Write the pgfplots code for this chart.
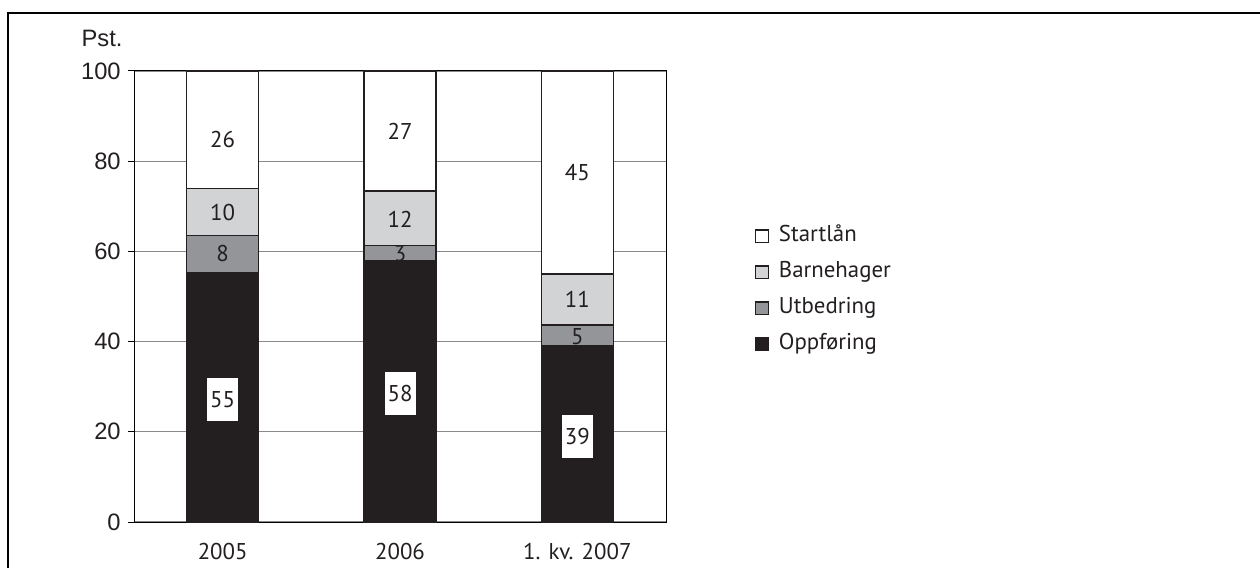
\documentclass[border=0pt]{standalone}
\usepackage{pgfplots}
\pgfplotsset{compat=1.18}
\usepackage{fontspec}
\setmainfont{PT Sans}
\newfontfamily\arialfont{Liberation Sans}
\definecolor{cblack}{HTML}{231F20}
\definecolor{cmid}{HTML}{939598}
\definecolor{clight}{HTML}{D1D3D4}
\definecolor{cgrid}{HTML}{8A8A8A}
\pgfplotsset{commonax/.style={
  at={(2.68cm,0.90cm)}, anchor=south west,
  scale only axis, width=10.64cm, height=9.02cm,
  xmin=-0.5, xmax=2.5, ymin=0, ymax=100}}
\begin{document}
\begin{tikzpicture}
\useasboundingbox (0,0) rectangle (25.2,11.34);
\draw[line width=0.05cm] (0.16,-0.1) -- (0.16,11.08) -- (25.4,11.08);
\node[font={\arialfont\fontsize{13.5pt}{15pt}\selectfont}, text=cblack, anchor=center] at (2.04,10.58) {Pst.};
\begin{axis}[
  commonax,
  ybar stacked, bar width=1.44cm,
  xtick={0,1,2}, xticklabels={2005,2006,1. kv. 2007},
  ytick={0,20,40,60,80,100}, yticklabels={0,20,40,60,80,100},
  axis line style={black, line width=0.02cm},
  ymajorgrids, major grid style={cgrid, line width=0.025cm},
  tick align=outside, ytick pos=left, xtick style={draw=none},
  ytick style={black, line width=0.02cm}, major tick length=0.12cm,
  yticklabel style={font={\arialfont\fontsize{13.5pt}{15pt}\selectfont}, text=cblack, anchor=east, inner sep=0pt, xshift=-0.14cm},
  xticklabel style={font={\fontsize{13pt}{15pt}\selectfont}, text=cblack, anchor=north, inner sep=0pt, yshift=-0.3cm},
  reverse legend,
  legend cell align=left,
  legend style={draw=none, fill=none, inner sep=0pt, font={\fontsize{13pt}{15pt}\selectfont}, text=cblack,
    at={(axis description cs:1.167,0.514)}, anchor=west,
    row sep=0.32cm, column sep=0.2cm,
    nodes={inner sep=0pt, text height=0.3cm, text depth=0.1cm}},
  legend image code/.code={\draw[#1, draw=cblack, line width=0.025cm] (0cm,-0.125cm) rectangle (0.25cm,0.125cm);},
]
\addplot[fill=cblack, draw=cblack, line width=0.025cm] coordinates {(0,55.4) (1,57.9) (2,39.0)};
\addlegendentry{Oppføring}
\addplot[fill=cmid, draw=cblack, line width=0.025cm] coordinates {(0,8.1) (1,3.4) (2,4.7)};
\addlegendentry{Utbedring}
\addplot[fill=clight, draw=cblack, line width=0.025cm] coordinates {(0,10.4) (1,12.1) (2,11.3)};
\addlegendentry{Barnehager}
\addplot[fill=white, draw=cblack, line width=0.025cm] coordinates {(0,26.1) (1,26.6) (2,45.0)};
\addlegendentry{Startlån}
\end{axis}
\begin{axis}[commonax, hide axis,
  every node near coord/.append style={font={\fontsize{13pt}{15pt}\selectfont}, text=cblack, anchor=center, inner sep=0pt}]
\addplot[draw=none, mark=none, nodes near coords, point meta=explicit symbolic]
  coordinates {(0,84.8)[26] (1,86.7)[27] (2,77.6)[45]
               (0,68.6)[10] (1,67.2)[12] (2,49.3)[11]
               (0,59.6)[8] (1,59.6)[3] (2,41.1)[5]};
\addplot[draw=none, mark=none, nodes near coords, point meta=explicit symbolic,
  every node near coord/.append style={fill=white, minimum width=0.62cm, minimum height=0.86cm}]
  coordinates {(0,27.2)[55] (1,28.5)[58] (2,19.0)[39]};
\end{axis}
\end{tikzpicture}
\end{document}
